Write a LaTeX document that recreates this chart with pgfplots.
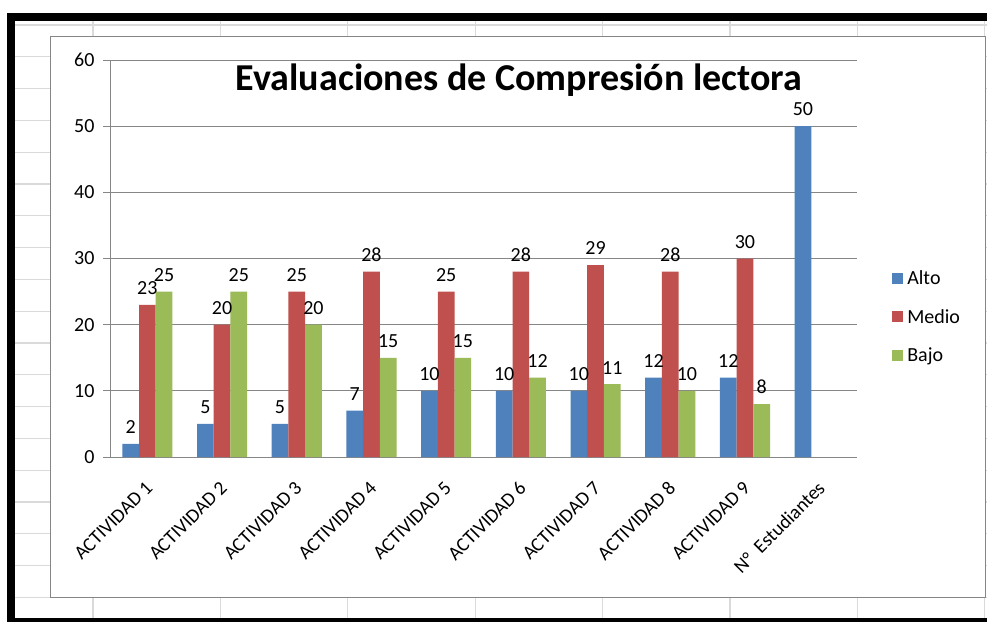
\documentclass[border=0pt]{standalone}
\usepackage{fontspec}
\setmainfont{Carlito}
\usepackage{pgfplots}
\pgfplotsset{compat=1.18}
\definecolor{alto}{HTML}{4F81BD}
\definecolor{medio}{HTML}{C0504D}
\definecolor{bajo}{HTML}{9BBB59}
\definecolor{sheet}{HTML}{DADADA}
\definecolor{axgray}{HTML}{868686}
\begin{document}
\begin{tikzpicture}[x=1pt,y=1pt]
\useasboundingbox (0,0) rectangle (987,621);
\fill[white] (0,0) rectangle (987,621);
\foreach \x in {93,220.4,347.8,475.2,602.6,730,857.4,984.8} \draw[sheet, line width=1.2pt] (\x,0) -- (\x,621);
\foreach \k in {0,...,18} \draw[sheet, line width=1.2pt] (0,{596-\k*31.8}) -- (987,{596-\k*31.8});
\fill[white] (0,608) rectangle (987,621);
\fill[white] (0,0) rectangle (7,621);
\draw[black, line width=8pt] (11,-1) rectangle (1000,604);
\draw[axgray, fill=white, line width=1pt] (50,24) rectangle (985,584);
\begin{axis}[
  at={(110pt,164pt)}, anchor=south west,
  scale only axis, width=747pt, height=397pt,
  xmin=-0.5, xmax=9.5, ymin=0, ymax=60,
  axis lines*=left,
  axis line style={axgray, line width=1pt, -},
  ytick={0,10,...,60},
  ymajorgrids, grid style={axgray, line width=0.9pt},
  major tick style={axgray, line width=1pt},
  tick align=outside,
  major tick length=7pt,
  xtick={0,...,9},
  xticklabels={ACTIVIDAD 1,ACTIVIDAD 2,ACTIVIDAD 3,ACTIVIDAD 4,ACTIVIDAD 5,ACTIVIDAD 6,ACTIVIDAD 7,ACTIVIDAD 8,ACTIVIDAD 9,N°\ \ Estudiantes},
  x tick style={draw=none},
  minor xtick={-0.5,0.5,...,9.5},
  minor tick length=7pt,
  minor tick style={axgray, line width=1pt},
  xticklabel style={rotate=45, anchor=east, font=\fontsize{19.5}{22}\selectfont, xshift=-10pt, yshift=-16pt},
  yticklabel style={font=\fontsize{20}{23}\selectfont, xshift=-5pt},
  /pgf/number format/assume math mode=true,
  ybar, bar width=16.7pt,
  nodes near coords,
  every node near coord/.append style={font=\fontsize{20}{23}\selectfont, black, inner sep=3pt, yshift=7pt},
  legend style={draw=none, fill=none, at={(1.043,0.353)}, anchor=west, font=\fontsize{20}{23}\selectfont, row sep=19pt, legend cell align=left},
  legend image code/.code={\fill[#1] (0pt,-5.5pt) rectangle (10.5pt,5.5pt); \path (13pt,0pt);},
]
\addplot[fill=alto, draw=none, bar shift=-16.7pt] coordinates {(0,2) (1,5) (2,5) (3,7) (4,10) (5,10) (6,10) (7,12) (8,12) (9,50)};
\addplot[fill=medio, draw=none, bar shift=0pt] coordinates {(0,23) (1,20) (2,25) (3,28) (4,25) (5,28) (6,29) (7,28) (8,30)};
\addplot[fill=bajo, draw=none, bar shift=16.7pt] coordinates {(0,25) (1,25) (2,20) (3,15) (4,15) (5,12) (6,11) (7,10) (8,8)};
\legend{Alto,Medio,Bajo}
\end{axis}
\node[font=\bfseries\fontsize{38}{44}\selectfont] at (519,541) {Evaluaciones de Compresión lectora};
\end{tikzpicture}
\end{document}
